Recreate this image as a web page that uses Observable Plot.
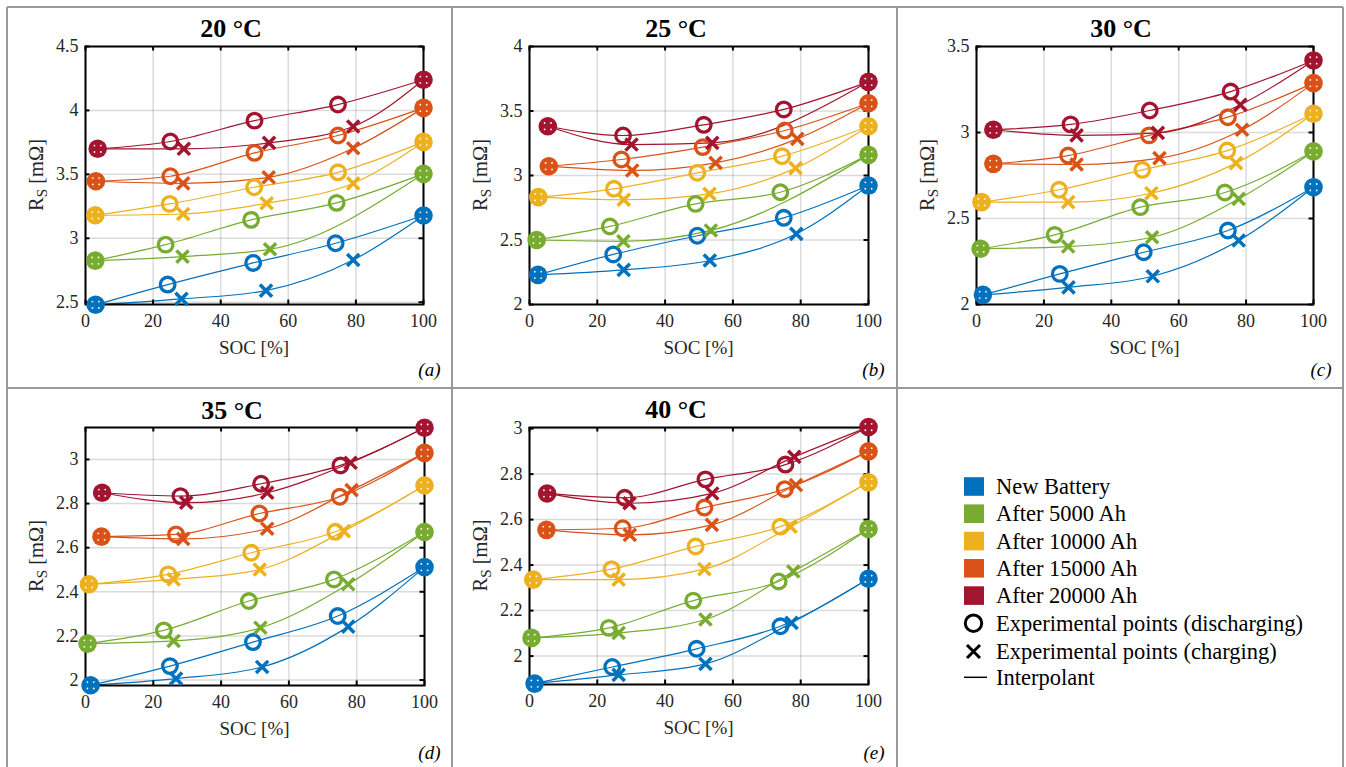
<!DOCTYPE html>
<html>
<head>
<meta charset="utf-8">
<script src="https://cdn.jsdelivr.net/npm/d3@7"></script>
<script src="https://cdn.jsdelivr.net/npm/@observablehq/plot@0.6"></script>
<style>
  html, body { margin: 0; padding: 0; background: #fff; }
  #chart { position: relative; width: 1346px; height: 767px; overflow: hidden;
           font-family: "Liberation Serif", "Times New Roman", serif; }
  #chart svg { position: absolute; left: 0; top: 0; overflow: visible; }
</style>
</head>
<body>
<div id="chart"></div>
<script>
// Ageing states and their colours
const ageing = ["New Battery", "After 5000 Ah", "After 10000 Ah", "After 15000 Ah", "After 20000 Ah"];
const ageingColors = ["#0072BD", "#77AC30", "#EDB120", "#D95319", "#A2142F"];
const socTicks = [0, 20, 40, 60, 80, 100];

// Series resistance R_S [mΩ] vs SOC [%].
// dis*: discharging points (first and last are shared with charging)
// chg*: intermediate charging points
const dis20 = [
  [[3.0, 2.48], [24.3, 2.638], [49.6, 2.807], [74.0, 2.961], [100, 3.178]],
  [[2.9, 2.825], [23.7, 2.95], [49.0, 3.144], [74.3, 3.277], [100, 3.504]],
  [[2.9, 3.18], [24.9, 3.269], [49.9, 3.399], [74.7, 3.516], [100, 3.754]],
  [[3.1, 3.446], [25.1, 3.485], [50.0, 3.668], [74.7, 3.804], [100, 4.02]],
  [[3.6, 3.70], [25.1, 3.757], [50.0, 3.92], [74.7, 4.046], [100, 4.24]]
];
const chg20 = [
  [[28.4, 2.526], [53.4, 2.591], [79.2, 2.83]],
  [[28.7, 2.857], [54.6, 2.914]],
  [[28.9, 3.19], [53.6, 3.274], [79.2, 3.43]],
  [[28.9, 3.43], [54.2, 3.477], [79.2, 3.704]],
  [[29.1, 3.70], [54.3, 3.746], [79.2, 3.874]]
];
const dis25 = [
  [[2.5, 2.23], [24.7, 2.388], [49.5, 2.533], [75.0, 2.672], [100, 2.922]],
  [[2.1, 2.5], [23.7, 2.605], [49.0, 2.78], [74.0, 2.87], [100, 3.16]],
  [[2.6, 2.832], [24.9, 2.897], [49.5, 3.021], [74.5, 3.15], [100, 3.382]],
  [[5.7, 3.072], [27.1, 3.124], [51.1, 3.22], [75.3, 3.349], [100, 3.56]],
  [[5.4, 3.382], [27.6, 3.31], [51.4, 3.393], [75.0, 3.512], [100, 3.726]]
];
const chg25 = [
  [[27.8, 2.269], [53.2, 2.341], [78.7, 2.548]],
  [[27.7, 2.49], [53.5, 2.574]],
  [[27.8, 2.812], [53.1, 2.858], [78.5, 3.057]],
  [[30.3, 3.039], [54.9, 3.098], [79.0, 3.284]],
  [[30.1, 3.24], [53.9, 3.253]]
];
const dis30 = [
  [[1.9, 2.056], [24.7, 2.178], [49.6, 2.304], [74.6, 2.43], [100, 2.682]],
  [[1.2, 2.324], [23.2, 2.405], [48.6, 2.566], [73.7, 2.651], [100, 2.89]],
  [[1.5, 2.595], [24.5, 2.667], [49.2, 2.783], [74.4, 2.895], [100, 3.109]],
  [[5.0, 2.818], [27.2, 2.866], [51.2, 2.983], [74.6, 3.089], [100, 3.287]],
  [[5.0, 3.016], [27.9, 3.047], [51.4, 3.128], [75.4, 3.238], [100, 3.419]]
];
const chg30 = [
  [[27.3, 2.10], [52.3, 2.164], [77.8, 2.372]],
  [[27.2, 2.337], [52.1, 2.391], [77.8, 2.614]],
  [[27.2, 2.595], [51.9, 2.647], [77.0, 2.822]],
  [[29.7, 2.814], [54.3, 2.851], [78.8, 3.016]],
  [[29.7, 2.983], [53.8, 2.998], [78.3, 3.161]]
];
const dis35 = [
  [[1.5, 1.976], [24.9, 2.063], [49.4, 2.172], [74.4, 2.29], [100, 2.512]],
  [[0.6, 2.165], [23.1, 2.225], [48.2, 2.358], [73.3, 2.456], [100, 2.671]],
  [[1.0, 2.434], [24.4, 2.479], [48.9, 2.577], [73.7, 2.672], [100, 2.882]],
  [[4.7, 2.65], [26.7, 2.66], [51.3, 2.755], [75.0, 2.831], [100, 3.03]],
  [[4.9, 2.849], [28.0, 2.834], [51.8, 2.89], [75.2, 2.973], [100, 3.144]]
];
const chg35 = [
  [[26.7, 2.006], [52.1, 2.059], [77.5, 2.242]],
  [[26.0, 2.177], [51.6, 2.237], [77.5, 2.434]],
  [[26.0, 2.456], [51.4, 2.501], [76.2, 2.675]],
  [[28.8, 2.64], [53.6, 2.686], [78.5, 2.861]],
  [[29.7, 2.804], [53.6, 2.849], [78.2, 2.985]]
];
const dis40 = [
  [[1.5, 1.879], [24.4, 1.952], [49.3, 2.032], [74.0, 2.131], [100, 2.34]],
  [[0.6, 2.08], [23.4, 2.124], [48.3, 2.244], [73.5, 2.328], [100, 2.559]],
  [[1.1, 2.336], [24.2, 2.382], [49.0, 2.482], [74.0, 2.569], [100, 2.764]],
  [[5.0, 2.555], [27.5, 2.562], [51.6, 2.653], [75.3, 2.734], [100, 2.90]],
  [[5.2, 2.715], [28.1, 2.696], [51.9, 2.777], [75.5, 2.842], [100, 3.007]]
];
const chg40 = [
  [[26.3, 1.917], [51.9, 1.966], [77.3, 2.146]],
  [[26.3, 2.102], [51.9, 2.161], [77.8, 2.372]],
  [[26.3, 2.336], [51.6, 2.382], [77.0, 2.569]],
  [[29.6, 2.533], [53.8, 2.577], [78.6, 2.752]],
  [[29.5, 2.672], [53.9, 2.715], [78.1, 2.876]]
];

// Axis ranges and ticks for R_S
const yRange20 = [2.482, 4.5], yTicks20 = [2.5, 3, 3.5, 4, 4.5];
const yRange25 = [2, 4],       yTicks25 = [2, 2.5, 3, 3.5, 4];
const yRange30 = [2, 3.5],     yTicks30 = [2, 2.5, 3, 3.5];
const yRange35 = [1.975, 3.145], yTicks35 = [2, 2.2, 2.4, 2.6, 2.8, 3];
const yRange40 = [1.875, 3.005], yTicks40 = [2, 2.2, 2.4, 2.6, 2.8, 3];

const W = 1346, H = 767;
const FONT = "'Liberation Serif', 'Times New Roman', serif";

// panel layout: frame [x0, x1, y0, y1] in page pixels, cell centre for the title
const panels = [
  {title: "20 °C", letter: "(a)", dis: dis20, chg: chg20, yRange: yRange20, yTicks: yTicks20, frame: [85, 423, 46, 304], titleX: 231, titleY: 37, letterY: 376},
  {title: "25 °C", letter: "(b)", dis: dis25, chg: chg25, yRange: yRange25, yTicks: yTicks25, frame: [529, 868, 46, 304], titleX: 676, titleY: 37, letterY: 376},
  {title: "30 °C", letter: "(c)", dis: dis30, chg: chg30, yRange: yRange30, yTicks: yTicks30, frame: [976, 1313, 46, 304], titleX: 1121, titleY: 37, letterY: 376},
  {title: "35 °C", letter: "(d)", dis: dis35, chg: chg35, yRange: yRange35, yTicks: yTicks35, frame: [85, 424, 427, 685], titleX: 232, titleY: 419, letterY: 759},
  {title: "40 °C", letter: "(e)", dis: dis40, chg: chg40, yRange: yRange40, yTicks: yTicks40, frame: [529, 868, 427, 684], titleX: 676, titleY: 418, letterY: 759}
];

function panelRows(dis, chg) {
  const out = [];
  dis.forEach((pts, k) => {
    const name = ageing[k];
    pts.forEach(([soc, rs], i) => out.push({kind: "dis", k, name, soc, rs, end: i === 0 || i === pts.length - 1}));
    const c = [pts[0], ...chg[k], pts[pts.length - 1]];
    c.forEach(([soc, rs], i) => out.push({kind: "chg", k, name, soc, rs, end: i === 0 || i === c.length - 1}));
  });
  return out;
}

const chart = document.getElementById("chart");
const TICK = 4.5;

for (const p of panels) {
  const [x0, x1, y0, y1] = p.frame;
  const fw = x1 - x0, fh = y1 - y0;
  const data = panelRows(p.dis, p.chg);
  const marks = [
    Plot.gridX(socTicks, {stroke: "#000", strokeOpacity: 0.14, strokeWidth: 1.5}),
    Plot.gridY(p.yTicks, {stroke: "#000", strokeOpacity: 0.14, strokeWidth: 1.5}),
    Plot.line(data, {x: "soc", y: "rs", z: d => d.kind + d.k, stroke: "name", curve: "monotone-x", strokeWidth: 1.2}),
    Plot.frame({stroke: "#000", strokeWidth: 2}),
    // inward ticks on all four sides
    Plot.tickX(socTicks, {x: d => d, stroke: "#000", strokeWidth: 2, insetTop: fh - TICK}),
    Plot.tickX(socTicks, {x: d => d, stroke: "#000", strokeWidth: 2, insetBottom: fh - TICK}),
    Plot.tickY(p.yTicks, {y: d => d, stroke: "#000", strokeWidth: 2, insetRight: fw - TICK}),
    Plot.tickY(p.yTicks, {y: d => d, stroke: "#000", strokeWidth: 2, insetLeft: fw - TICK}),
    Plot.axisX(socTicks, {anchor: "bottom", tickSize: 0, tickPadding: 10, fontSize: 18, fill: "#262626", tickFormat: d => String(d), label: null}),
    Plot.axisY(p.yTicks, {anchor: "left", tickSize: 0, tickPadding: 7, fontSize: 18, fill: "#262626", tickFormat: d => String(d), label: null})
  ];
  for (let k = 0; k < ageing.length; k++) {
    const ser = data.filter(d => d.k === k);
    const ends = ser.filter(d => d.kind === "dis" && d.end);
    marks.push(
      Plot.dot(ends, {x: "soc", y: "rs", r: 9.3, fill: "name", stroke: null}),
      Plot.dot(ends, {x: "soc", y: "rs", r: 0.9, fill: "#fff", dx: -3.2, dy: -3.2}),
      Plot.dot(ends, {x: "soc", y: "rs", r: 0.9, fill: "#fff", dx: 3.2, dy: -3.2}),
      Plot.dot(ends, {x: "soc", y: "rs", r: 0.9, fill: "#fff", dx: -3.2, dy: 3.2}),
      Plot.dot(ends, {x: "soc", y: "rs", r: 0.9, fill: "#fff", dx: 3.2, dy: 3.2}),
      Plot.dot(ser.filter(d => d.kind === "dis" && !d.end), {x: "soc", y: "rs", r: 7.3, stroke: "name", strokeWidth: 3.3, fill: "none"}),
      Plot.dot(ser.filter(d => d.kind === "chg" && !d.end), {x: "soc", y: "rs", symbol: "times", r: 5.6, stroke: "name", strokeWidth: 3.5})
    );
  }
  const svg = Plot.plot({
    width: W, height: H,
    marginLeft: x0, marginRight: W - x1, marginTop: y0, marginBottom: H - y1,
    x: {domain: [0, 100], axis: null},
    y: {domain: p.yRange, axis: null},
    color: {domain: ageing, range: ageingColors},
    style: {background: "transparent", fontFamily: FONT, fontSize: "18px", overflow: "visible"},
    marks
  });
  chart.appendChild(svg);
}

// Overlay: cell borders, titles, axis labels, panel letters and legend
const ov = d3.select(chart).append("svg")
  .attr("width", W).attr("height", H)
  .style("font-family", FONT);

const borders = ov.append("g").attr("stroke", "#9a9a9a").attr("stroke-width", 2);
[7, 388].forEach(y => borders.append("line").attr("x1", 7).attr("x2", 1343).attr("y1", y).attr("y2", y));
[7, 452, 897, 1343].forEach(x => borders.append("line").attr("x1", x).attr("x2", x).attr("y1", 7).attr("y2", H + 2));

for (const p of panels) {
  const [x0, x1, y0, y1] = p.frame;
  ov.append("text").attr("x", p.titleX).attr("y", p.titleY)
    .attr("text-anchor", "middle").attr("font-size", 26).attr("font-weight", "bold").text(p.title);
  ov.append("text").attr("x", (x0 + x1) / 2).attr("y", y1 + 49.5)
    .attr("text-anchor", "middle").attr("font-size", 19).attr("fill", "#262626").text("SOC [%]");
  const yl = ov.append("text")
    .attr("transform", `translate(${x0 - 42.5},${(y0 + y1) / 2}) rotate(-90)`)
    .attr("text-anchor", "middle").attr("font-size", 20.5).attr("fill", "#262626");
  yl.append("tspan").text("R");
  yl.append("tspan").attr("font-size", 15).attr("dy", 4.5).text("S");
  yl.append("tspan").attr("dy", -4.5).text(" [mΩ]");
  ov.append("text").attr("x", x0 + 355.5).attr("y", p.letterY)
    .attr("text-anchor", "end").attr("font-size", 19).attr("font-style", "italic").text(p.letter);
}

// Legend
const lg = ov.append("g").attr("font-size", 22.5);
const rowY = [486.5, 513.7, 541.1, 568.3, 595.6, 623.2, 651.5, 677.3];
ageing.forEach((name, k) => {
  lg.append("rect").attr("x", 964).attr("y", rowY[k] - 9.3).attr("width", 20).attr("height", 18.6).attr("fill", ageingColors[k]);
  lg.append("text").attr("x", 996).attr("y", rowY[k] + 7.5).text(name);
});
lg.append("circle").attr("cx", 973.5).attr("cy", rowY[5]).attr("r", 8.2).attr("fill", "none").attr("stroke", "#000").attr("stroke-width", 3);
lg.append("text").attr("x", 996).attr("y", rowY[5] + 7.5).text("Experimental points (discharging)");
lg.append("path").attr("d", `M${973.5 - 6.5},${rowY[6] - 6.5}L${973.5 + 6.5},${rowY[6] + 6.5}M${973.5 - 6.5},${rowY[6] + 6.5}L${973.5 + 6.5},${rowY[6] - 6.5}`)
  .attr("stroke", "#000").attr("stroke-width", 3);
lg.append("text").attr("x", 996).attr("y", rowY[6] + 7.5).text("Experimental points (charging)");
lg.append("line").attr("x1", 964).attr("x2", 987).attr("y1", rowY[7]).attr("y2", rowY[7]).attr("stroke", "#000").attr("stroke-width", 1.5);
lg.append("text").attr("x", 996).attr("y", rowY[7] + 7.5).text("Interpolant");
</script>
</body>
</html>
